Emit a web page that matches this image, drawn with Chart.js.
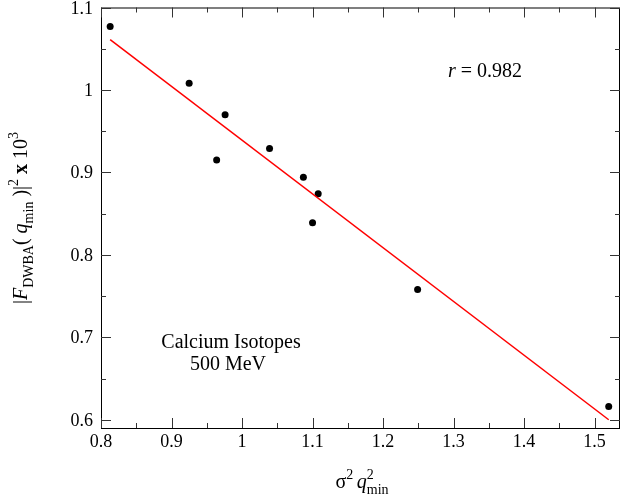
<!DOCTYPE html>
<html lang="en">
<head>
    <meta charset="UTF-8">
    <title>Calcium Isotopes 500 MeV</title>
    <style>
        html, body {
            margin: 0;
            padding: 0;
            background: #fff;
        }
        #chart {
            display: block;
        }
    </style>
    <script src="https://cdn.jsdelivr.net/npm/chart.js"></script>
</head>
<body>
    <canvas id="chart" width="624" height="502"></canvas>

    <script>
        // Data
        const sigmaQ2 = [0.813, 0.925, 0.976, 0.964, 1.039, 1.087, 1.108, 1.100, 1.249, 1.520];
        const formFactor = [1.077, 1.008, 0.970, 0.915, 0.929, 0.894, 0.874, 0.839, 0.758, 0.616];
        const fitX = [0.813, 1.520];
        const fitY = [1.061, 0.600];
        const xTicks = [0.8, 0.9, 1.0, 1.1, 1.2, 1.3, 1.4, 1.5];
        const yTicks = [0.6, 0.7, 0.8, 0.9, 1.0, 1.1];
        const xMinor = [0.85, 0.95, 1.05, 1.15, 1.25, 1.35, 1.45];
        const yMinor = [0.65, 0.75, 0.85, 0.95, 1.05];

        const SERIF = '"Liberation Serif", "DejaVu Serif", serif';

        function setFont(ctx, p, size) {
            const s = p.small ? size * 0.7 : size;
            ctx.font = (p.italic ? 'italic ' : '') + (p.bold ? 'bold ' : '') + s + 'px ' + SERIF;
        }

        // draw text pieces with sub/superscripts, left to right from (x, y)
        // a piece with "stack" puts a superscript and a subscript at the same x
        function drawRich(ctx, parts, x, y, size, measureOnly) {
            let cx = x;
            parts.forEach(p => {
                if (p.stack) {
                    setFont(ctx, {small: true}, size);
                    const w1 = ctx.measureText(p.stack[0]).width;
                    const w2 = ctx.measureText(p.stack[1]).width;
                    if (!measureOnly) {
                        ctx.fillText(p.stack[0], cx, y - size * 0.45);
                        ctx.fillText(p.stack[1], cx, y + size * 0.3);
                    }
                    cx += Math.max(w1, w2);
                    return;
                }
                setFont(ctx, p, size);
                let dy = 0;
                if (p.sub) dy = size * 0.3;
                if (p.sup) dy = -size * 0.45;
                if (!measureOnly) ctx.fillText(p.t, cx, y + dy);
                cx += ctx.measureText(p.t).width;
            });
            return cx - x;
        }

        const frameAndText = {
            id: 'frameAndText',
            afterDraw(chart) {
                const ctx = chart.ctx;
                const a = chart.chartArea;
                const xs = chart.scales.x, ys = chart.scales.y;
                ctx.save();

                // frame
                ctx.strokeStyle = '#000';
                ctx.lineWidth = 1;
                ctx.strokeRect(a.left + 0.5, a.top + 0.5, a.right - a.left - 1, a.bottom - a.top);

                // inward ticks on all four sides
                ctx.strokeStyle = '#333';
                ctx.beginPath();
                const tickX = (vals, len) => vals.forEach(v => {
                    const px = Math.round(xs.getPixelForValue(v)) + 0.5;
                    ctx.moveTo(px, a.bottom); ctx.lineTo(px, a.bottom - len);
                    ctx.moveTo(px, a.top); ctx.lineTo(px, a.top + len);
                });
                const tickY = (vals, len) => vals.forEach(v => {
                    const py = Math.round(ys.getPixelForValue(v)) + 0.5;
                    ctx.moveTo(a.left, py); ctx.lineTo(a.left + len, py);
                    ctx.moveTo(a.right, py); ctx.lineTo(a.right - len, py);
                });
                tickX(xTicks, 10); tickX(xMinor, 5);
                tickY(yTicks, 10); tickY(yMinor, 5);
                ctx.stroke();

                ctx.fillStyle = '#000';
                ctx.textBaseline = 'alphabetic';

                // tick labels
                const fmt = v => String(Math.round(v * 10) / 10);
                ctx.font = '18px ' + SERIF;
                ctx.textAlign = 'center';
                xTicks.forEach(v => ctx.fillText(fmt(v), xs.getPixelForValue(v), 447));
                ctx.textAlign = 'right';
                yTicks.forEach(v => ctx.fillText(fmt(v), 93, ys.getPixelForValue(v) + 6));
                ctx.textAlign = 'left';

                // r value
                drawRich(ctx, [{t: 'r', italic: true}, {t: ' = 0.982'}], 448, 77, 20);

                // caption
                ctx.textAlign = 'center';
                ctx.font = '20px ' + SERIF;
                ctx.fillText('Calcium Isotopes', 231, 348);
                ctx.fillText('500 MeV', 228, 370);
                ctx.textAlign = 'left';

                // x title
                const xt = [{t: 'σ'}, {t: '2', small: true, sup: true}, {t: ' ', small: true},
                            {t: 'q', italic: true}, {stack: ['2', 'min']}];
                const xw = drawRich(ctx, xt, 0, 0, 20, true);
                drawRich(ctx, xt, 362 - xw / 2, 488, 20);

                // y title
                const yt = [{t: '|'}, {t: 'F', italic: true}, {t: 'DWBA', small: true, sub: true},
                            {t: '( '}, {t: 'q', italic: true}, {t: 'min', small: true, sub: true},
                            {t: ' )|'}, {t: '2', small: true, sup: true}, {t: ' x ', bold: true},
                            {t: '10'}, {t: '3', small: true, sup: true}];
                const yw = drawRich(ctx, yt, 0, 0, 20, true);
                ctx.translate(27, 218);
                ctx.rotate(-Math.PI / 2);
                drawRich(ctx, yt, -yw / 2, 0, 20);

                ctx.restore();
            }
        };

        new Chart(document.getElementById('chart'), {
            type: 'scatter',
            data: {
                datasets: [{
                    label: 'fit',
                    data: fitX.map((x, i) => ({x: x, y: fitY[i]})),
                    showLine: true,
                    borderColor: '#ff0000',
                    borderWidth: 1.5,
                    pointRadius: 0
                }, {
                    label: 'isotopes',
                    data: sigmaQ2.map((x, i) => ({x: x, y: formFactor[i]})),
                    backgroundColor: '#000',
                    borderColor: '#000',
                    pointRadius: 3.5,
                    borderWidth: 0
                }]
            },
            options: {
                responsive: false,
                animation: false,
                events: [],
                layout: { padding: { top: 7.5, right: 2, left: 0, bottom: 0 } },
                plugins: {
                    legend: { display: false },
                    tooltip: { enabled: false }
                },
                scales: {
                    x: {
                        type: 'linear',
                        min: 0.8,
                        max: 1.536,
                        grid: { display: false },
                        border: { display: false },
                        ticks: { display: false },
                        afterBuildTicks: s => { s.ticks = xTicks.map(v => ({value: v})); },
                        afterFit: s => { s.height = 74; }
                    },
                    y: {
                        type: 'linear',
                        min: 0.59,
                        max: 1.1,
                        grid: { display: false },
                        border: { display: false },
                        ticks: { display: false },
                        afterBuildTicks: s => { s.ticks = yTicks.map(v => ({value: v})); },
                        afterFit: s => { s.width = 101; }
                    }
                }
            },
            plugins: [frameAndText]
        });
    </script>
</body>
</html>
